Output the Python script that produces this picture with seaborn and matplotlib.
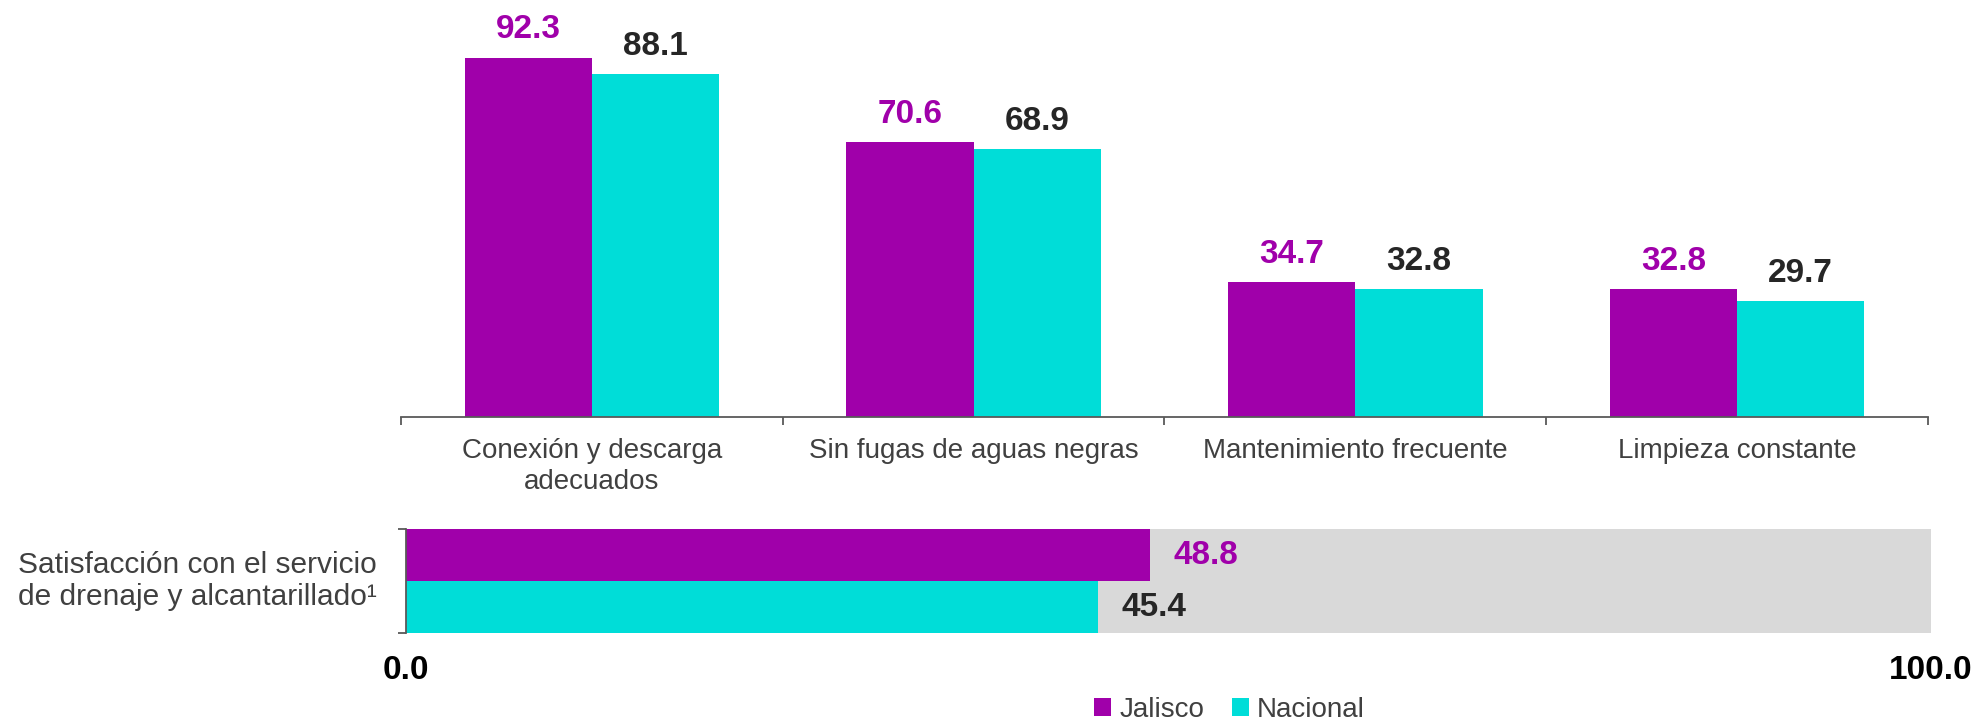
import matplotlib
matplotlib.use('Agg')
import matplotlib.pyplot as plt
import pandas as pd
import seaborn as sns
from matplotlib.patches import Patch

# Data
categorias = ['Conexión y descarga\nadecuados', 'Sin fugas de aguas negras',
              'Mantenimiento frecuente', 'Limpieza constante']
jalisco = [92.3, 70.6, 34.7, 32.8]
nacional = [88.1, 68.9, 32.8, 29.7]

series = ['Jalisco', 'Nacional']
satisfaccion = [48.8, 45.4]
maximo = [100.0, 100.0]
etiqueta_sat = 'Satisfacción con el servicio\nde drenaje y alcantarillado¹'

colores = {'Jalisco': '#A000AA', 'Nacional': '#00DDD8'}
texto_valor = {'Jalisco': '#A000AA', 'Nacional': '#262626'}
gris = '#D9D9D9'
eje = '#595959'
texto = '#404040'

sns.set_style('white')
plt.rcParams['font.family'] = ['Liberation Sans', 'DejaVu Sans']

df = pd.DataFrame({
    'categoria': categorias * 2,
    'valor': jalisco + nacional,
    'serie': ['Jalisco'] * len(categorias) + ['Nacional'] * len(categorias),
})

fig = plt.figure(figsize=(19.83, 7.19), dpi=100)

# Top chart: grouped bars
ax = fig.add_axes([0.2022, 0.42, 0.770, 0.541])
sns.barplot(data=df, x='categoria', y='valor', hue='serie', palette=colores,
            width=2/3, saturation=1, legend=False, edgecolor='none', linewidth=0, ax=ax)
ax.set_ylim(0, 100)
ax.set_xlim(-0.5, 3.5)
ax.set_xlabel('')
ax.set_ylabel('')
ax.set_yticks([])
for s in ['top', 'right', 'left']:
    ax.spines[s].set_visible(False)
ax.spines['bottom'].set_color(eje)
ax.spines['bottom'].set_linewidth(1.3)
ax.set_xticks([-0.5, 0.5, 1.5, 2.5, 3.5], minor=True)
ax.tick_params(axis='x', which='minor', bottom=True, length=6, width=1.3, color=eje,
               direction='out')
ax.tick_params(axis='x', which='major', bottom=True, length=0, pad=15, labelsize=20,
               labelcolor=texto)
for lab in ax.get_xticklabels():
    lab.set_linespacing(1.25)
for cont, nombre in zip(ax.containers, series):
    ax.bar_label(cont, fmt='%.1f', padding=9, fontsize=24, fontweight='bold',
                 color=texto_valor[nombre])

# Bottom chart: satisfaction bars over gray full-scale background
ax2 = fig.add_axes([0.2047, 0.1196, 0.769, 0.1446])
sns.barplot(x=maximo, y=series, color=gris, width=1, saturation=1, orient='h',
            edgecolor='none', linewidth=0, ax=ax2)
sns.barplot(x=satisfaccion, y=series, hue=series, palette=colores, width=1,
            saturation=1, orient='h', legend=False, edgecolor='none', linewidth=0, ax=ax2)
ax2.set_xlim(0, 100)
ax2.set_ylim(1.5, -0.5)
ax2.set_xlabel('')
ax2.set_ylabel('')
for s in ['top', 'right', 'bottom']:
    ax2.spines[s].set_visible(False)
ax2.spines['left'].set_color(eje)
ax2.spines['left'].set_linewidth(1.3)
ax2.set_yticks([-0.5, 1.5])
ax2.set_yticklabels(['', ''])
ax2.tick_params(axis='y', left=True, length=6, width=1.3, color=eje, direction='out')
ax2.set_xticks([0, 100])
ax2.set_xticklabels(['0.0', '100.0'])
ax2.tick_params(axis='x', length=0, pad=16, labelsize=24, labelcolor='black')
for lab in ax2.get_xticklabels():
    lab.set_fontweight('bold')
for cont, nombre in zip(ax2.containers[1:], series):
    ax2.bar_label(cont, fmt='%.1f', padding=17, fontsize=24, fontweight='bold',
                  color=texto_valor[nombre])
ax2.text(-0.137, 0.5, etiqueta_sat, transform=ax2.transAxes, ha='center',
         va='center', fontsize=21.5, color=texto, multialignment='center',
         linespacing=1.15)

# Legend
handles = [Patch(facecolor=colores[n], edgecolor='none', label=n) for n in series]
leg = fig.legend(handles=handles, loc='center', bbox_to_anchor=(0.62, 0.013), ncol=2,
                 frameon=False, fontsize=20, handlelength=0.6, handleheight=0.6,
                 handletextpad=0.3, columnspacing=1.0)
for t in leg.get_texts():
    t.set_color(texto)

fig.savefig('out.png', dpi=100)
